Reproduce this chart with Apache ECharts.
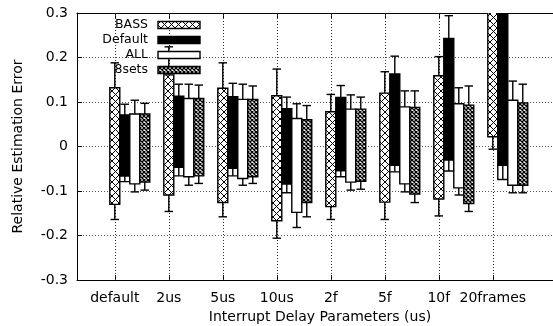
<!DOCTYPE html>
<html><head><meta charset="utf-8">
<script src="https://cdn.jsdelivr.net/npm/echarts@6/dist/echarts.min.js"></script>
<style>html,body{margin:0;padding:0;background:#fff;overflow:hidden}#c{width:553px;height:326px}</style>
</head><body><div id="c"></div>
<script>
const categories = ['default','2us','5us','10us','2f','5f','10f','20frames'];
const seriesNames = ['BASS','Default','ALL','8sets'];
const yTicks = [-0.3,-0.2,-0.1,0,0.1,0.2,0.3];

// box top / box bottom / whisker top / whisker bottom
const bassHigh    = [0.132, 0.161, 0.131, 0.114, 0.078, 0.120, 0.159, 0.40];
const bassLow     = [-0.130,-0.109,-0.126,-0.167,-0.135,-0.125,-0.118, 0.022];
const bassErrHigh = [0.188, 0.224, 0.188, 0.174, 0.117, 0.168, 0.202, 0.45];
const bassErrLow  = [-0.164,-0.146,-0.158,-0.206,-0.164,-0.164,-0.156,-0.006];

const defHigh     = [0.071, 0.113, 0.112, 0.085, 0.110, 0.163, 0.243, 0.40];
const defLow      = [-0.066,-0.047,-0.049,-0.084,-0.054,-0.042,-0.030,-0.042];
const defErrHigh  = [0.095, 0.140, 0.142, 0.111, 0.137, 0.203, 0.294, 0.45];
const defErrLow   = [-0.079,-0.066,-0.066,-0.104,-0.068,-0.057,-0.055,-0.074];

const allHigh     = [0.073, 0.108, 0.106, 0.063, 0.084, 0.089, 0.096, 0.104];
const allLow      = [-0.084,-0.068,-0.072,-0.148,-0.080,-0.084,-0.093,-0.087];
const allErrHigh  = [0.104, 0.140, 0.140, 0.096, 0.116, 0.125, 0.132, 0.147];
const allErrLow   = [-0.102,-0.087,-0.087,-0.182,-0.098,-0.102,-0.109,-0.104];

const setsHigh    = [0.073, 0.108, 0.106, 0.060, 0.084, 0.088, 0.093, 0.098];
const setsLow     = [-0.080,-0.066,-0.068,-0.126,-0.078,-0.107,-0.128,-0.087];
const setsErrHigh = [0.097, 0.138, 0.136, 0.092, 0.111, 0.125, 0.136, 0.140];
const setsErrLow  = [-0.098,-0.083,-0.083,-0.158,-0.096,-0.126,-0.146,-0.104];

const FONT = '"DejaVu Sans", Verdana, sans-serif';
const BAR_W = 0.185;

function crossPattern(size, lw){
  const cv = document.createElement('canvas'); cv.width = size; cv.height = size;
  const ctx = cv.getContext('2d');
  ctx.fillStyle = '#fff'; ctx.fillRect(0,0,size,size);
  ctx.strokeStyle = '#000'; ctx.lineWidth = lw;
  ctx.beginPath();
  ctx.moveTo(-1,-1); ctx.lineTo(size+1,size+1);
  ctx.moveTo(size+1,-1); ctx.lineTo(-1,size+1);
  ctx.stroke();
  return cv;
}
const bassFill = {image: crossPattern(7, 1), repeat: 'repeat'};
const setsFill = {image: crossPattern(4, 1.3), repeat: 'repeat'};
const fills = [bassFill, '#000', '#fff', setsFill];

function build(h,l,eh,el){ return categories.map((c,i)=>[i,h[i],l[i],eh[i],el[i]]); }
const seriesData = [
  build(bassHigh,bassLow,bassErrHigh,bassErrLow),
  build(defHigh,defLow,defErrHigh,defErrLow),
  build(allHigh,allLow,allErrHigh,allErrLow),
  build(setsHigh,setsLow,setsErrHigh,setsErrLow)
];

const catIdx = categories.map((c,i)=>i);
const Y_MIN = yTicks[0], Y_MAX = yTicks[yTicks.length-1];

const LS = {stroke:'#000', lineWidth:1.4};
function makeRender(k){
  return function(params, api){
    const i = api.value(0);
    const x = i + k*BAR_W;
    const hi = api.value(1), lo = api.value(2), eh = api.value(3), el = api.value(4);
    const pL = api.coord([x - BAR_W/2, hi]);
    const pR = api.coord([x + BAR_W/2, lo]);
    const top = pL[1], bottom = pR[1], left = pL[0], right = pR[0];
    const cx = (left+right)/2;
    const yh = api.coord([x, eh])[1], yl = api.coord([x, el])[1];
    const cap = (right-left)/2*0.85;
    const ch = [];
    if (k === 0) {
      const g0 = api.coord([i, Y_MIN]), g1 = api.coord([i, Y_MAX]);
      const gx = Math.round(g0[0]) + 0.5;
      ch.push({type:'line', shape:{x1:gx,y1:g0[1],x2:gx,y2:g1[1]}, style:{stroke:'#333', lineWidth:1, lineDash:[1,2]}});
    }
    ch.push({type:'line', shape:{x1:cx,y1:top,x2:cx,y2:yh}, style:LS});
    ch.push({type:'line', shape:{x1:cx-cap,y1:yh,x2:cx+cap,y2:yh}, style:LS});
    if (k === 1) {
      ch.push({type:'rect', shape:{x:left,y:bottom,width:right-left,height:yl-bottom}, style:{fill:'#fff',stroke:'#000',lineWidth:1.4}});
      ch.push({type:'line', shape:{x1:cx,y1:bottom,x2:cx,y2:yl}, style:LS});
    } else {
      ch.push({type:'line', shape:{x1:cx,y1:bottom,x2:cx,y2:yl}, style:LS});
      ch.push({type:'line', shape:{x1:cx-cap,y1:yl,x2:cx+cap,y2:yl}, style:LS});
    }
    ch.push({type:'rect', shape:{x:left,y:top,width:right-left,height:bottom-top}, style:{fill:fills[k],stroke:'#000',lineWidth:1.4}});
    return {type:'group', children: ch};
  };
}

const legendEls = [];
seriesNames.forEach((n,k)=>{
  const yc = 25 + k*15;
  legendEls.push({type:'text', z:100, style:{text:n, x:148, y:yc, align:'right', verticalAlign:'middle', font:'12.5px '+FONT, fill:'#000'}});
  legendEls.push({type:'rect', z:100, shape:{x:158, y:yc-3.5, width:42, height:7}, style:{fill:fills[k], stroke:'#000', lineWidth:1.4}});
});

const chart = echarts.init(document.getElementById('c'), null, {renderer:'canvas'});
chart.setOption({
  animation:false,
  backgroundColor:'#fff',
  grid:{left:77, right:-10, top:13, bottom:46, outerBoundsMode:'none', containLabel:false},
  xAxis:[{
    type:'value', min:-0.7, max:8.3, position:'bottom',
    name:'Interrupt Delay Parameters (us)', nameLocation:'middle', nameGap:30,
    nameTextStyle:{fontFamily:FONT, fontSize:14, color:'#000'},
    axisLine:{show:true, onZero:false, lineStyle:{color:'#000', width:1}},
    axisTick:{show:true, inside:true, length:5, customValues:catIdx, lineStyle:{color:'#000'}},
    axisLabel:{show:true, customValues:catIdx, margin:11, fontFamily:FONT, fontSize:14, color:'#000',
      formatter:v=>categories[Math.round(v)]},
    splitLine:{show:false}
  },{
    type:'value', min:-0.7, max:8.3, position:'top',
    axisLine:{show:true, onZero:false, lineStyle:{color:'#000', width:1}},
    axisTick:{show:true, inside:true, length:5, customValues:catIdx, lineStyle:{color:'#000'}},
    axisLabel:{show:false}, splitLine:{show:false}
  }],
  yAxis:[{
    type:'value', min:Y_MIN, max:Y_MAX, interval:0.1,
    name:'Relative Estimation Error', nameLocation:'middle', nameGap:52,
    nameTextStyle:{fontFamily:FONT, fontSize:14, color:'#000'},
    axisLine:{show:true, onZero:false, lineStyle:{color:'#000', width:1}},
    axisTick:{show:true, inside:true, length:5, lineStyle:{color:'#000'}},
    axisLabel:{margin:9, fontFamily:FONT, fontSize:14, color:'#000',
      formatter:v=>{const r=Math.round(v*10)/10; return r===0?'0':r.toFixed(1);}},
    splitLine:{show:true, lineStyle:{color:'#555', type:[1,2], width:1}}
  }],
  series: seriesData.map((d,k)=>({
    type:'custom', name:seriesNames[k], data:d, clip:true, z:2,
    xAxisIndex:0, yAxisIndex:0,
    encode:{x:0, y:[1,2,3,4]},
    renderItem: makeRender(k)
  })),
  graphic: legendEls
});
</script></body></html>
